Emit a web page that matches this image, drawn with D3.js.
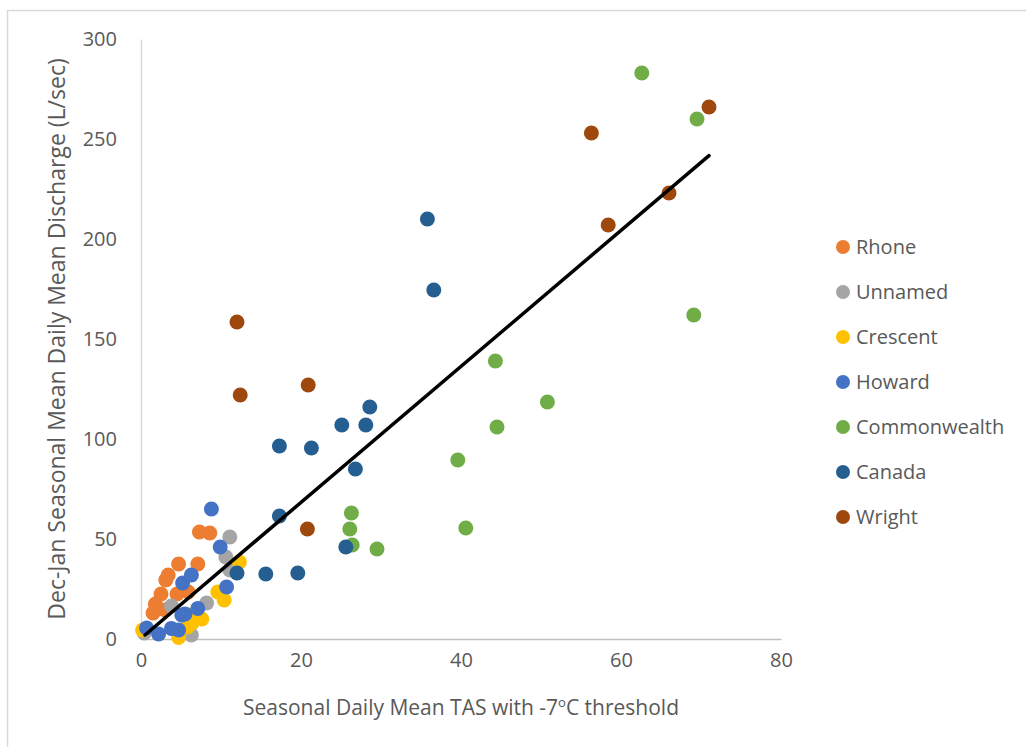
<!DOCTYPE html>
<html lang="en">
<head>
    <meta charset="UTF-8">
    <title>Discharge vs TAS</title>
    <style>
        body { margin: 0; padding: 0; background: #fff; }
        svg { display: block; }
        text { font-family: "Open Sans", "Noto Sans", sans-serif; fill: #595959; }
    </style>
</head>
<body>
    <svg width="1026" height="747"></svg>
    <script src="https://d3js.org/d3.v7.min.js"></script>
    <script>
        // Series names and colours (legend order)
        const seriesNames = ["Rhone", "Unnamed", "Crescent", "Howard", "Commonwealth", "Canada", "Wright"];
        const seriesColors = ["#ED7D31", "#A5A5A5", "#FFC000", "#4472C4", "#70AD47", "#255E91", "#9E480E"];

        // [TAS, discharge] pairs
        const rhone = [[1.5, 13], [1.8, 17.5], [2.5, 22.5], [3.1, 29.5], [3.4, 32], [3.0, 14.5],
            [4.5, 22.5], [5.9, 23.5], [4.7, 37.5], [7.1, 37.5], [7.3, 53.5], [8.6, 53]];
        const unnamed = [[0.4, 3], [3.8, 16.5], [6.3, 2], [8.2, 18], [10.6, 41], [11.1, 34.5], [11.1, 51]];
        const crescent = [[0.2, 4.5], [4.7, 0.8], [5.8, 6], [6.4, 8], [6.1, 12], [7.6, 10], [9.6, 23.5],
            [10.4, 19.5], [12.3, 38.5]];
        const howard = [[0.7, 5.5], [2.2, 2.5], [3.8, 5.3], [4.7, 4.5], [5.1, 12], [5.5, 12.5], [7.1, 15.3],
            [5.2, 28], [6.3, 32], [10.7, 26], [9.9, 46], [8.8, 65]];
        const commonwealth = [[62.6, 283], [69.5, 260], [69.1, 162], [44.3, 139], [50.8, 118.5], [44.5, 106],
            [39.6, 89.5], [40.6, 55.5], [26.3, 63], [26.1, 55], [26.4, 47], [29.5, 45]];
        const canada = [[35.8, 210], [36.6, 174.5], [28.6, 116], [25.1, 107], [28.1, 107], [17.3, 96.5],
            [21.3, 95.5], [26.8, 85], [17.3, 61.5], [25.6, 46], [15.6, 32.5], [19.6, 33], [12.0, 33]];
        const wright = [[71.0, 266], [56.3, 253], [66.0, 223], [58.4, 207], [12.0, 158.5], [12.4, 122],
            [20.9, 127], [20.8, 55]];
        const seriesData = [rhone, unnamed, crescent, howard, commonwealth, canada, wright];

        // Linear trendline
        const trendSlope = 3.40;
        const trendIntercept = 0.3;
        const trendRange = [0.5, 71.0];

        const xTicks = [0, 20, 40, 60, 80];
        const yTicks = [0, 50, 100, 150, 200, 250, 300];

        const svg = d3.select("svg");

        // chart border (Excel chart area)
        svg.append("rect")
            .attr("x", 7.5).attr("y", 10.5)
            .attr("width", 1040).attr("height", 760)
            .attr("fill", "none").attr("stroke", "#D9D9D9").attr("stroke-width", 1.5);

        const x = d3.scaleLinear().domain([0, 80]).range([141, 781]);
        const y = d3.scaleLinear().domain([0, 300]).range([639, 39]);

        // axes
        const xAxis = svg.append("g")
            .attr("transform", `translate(0,${y(0)})`)
            .call(d3.axisBottom(x).tickValues(xTicks).tickSize(0).tickPadding(14));
        xAxis.select(".domain").attr("stroke", "#BFBFBF").attr("stroke-width", 1.5);
        xAxis.selectAll("text").style("font-size", "20px").attr("fill", "#595959");

        const yAxis = svg.append("g")
            .attr("transform", `translate(${x(0)},0)`)
            .call(d3.axisLeft(y).tickValues(yTicks).tickSize(0).tickPadding(24));
        yAxis.select(".domain").attr("stroke", "#D9D9D9").attr("stroke-width", 1.5);
        yAxis.selectAll("text").style("font-size", "20px").attr("fill", "#595959");

        // points
        seriesData.forEach((pts, i) => {
            svg.append("g")
                .selectAll("circle")
                .data(pts)
                .enter()
                .append("circle")
                .attr("cx", d => x(d[0]))
                .attr("cy", d => y(d[1]))
                .attr("r", 7.5)
                .attr("fill", seriesColors[i]);
        });

        // trendline
        svg.append("line")
            .attr("x1", x(trendRange[0]))
            .attr("y1", y(trendSlope * trendRange[0] + trendIntercept))
            .attr("x2", x(trendRange[1]))
            .attr("y2", y(trendSlope * trendRange[1] + trendIntercept))
            .attr("stroke", "#000").attr("stroke-width", 3.5)
            .attr("stroke-linecap", "round");

        // axis titles
        svg.append("text")
            .attr("transform", `translate(65,${(y(0) + y(300)) / 2}) rotate(-90)`)
            .attr("text-anchor", "middle")
            .style("font-size", "23px")
            .text("Dec-Jan Seasonal Mean Daily Mean Discharge (L/sec)");

        const xTitle = svg.append("text")
            .attr("x", (x(0) + x(80)) / 2)
            .attr("y", 715)
            .attr("text-anchor", "middle")
            .style("font-size", "21px");
        xTitle.append("tspan").text("Seasonal Daily Mean TAS with -7");
        xTitle.append("tspan").attr("dy", -8).style("font-size", "13px").text("o");
        xTitle.append("tspan").attr("dy", 8).text("C threshold");

        // legend
        const legend = svg.append("g");
        seriesNames.forEach((name, i) => {
            const ly = 247 + i * 45;
            legend.append("circle")
                .attr("cx", 843).attr("cy", ly).attr("r", 7)
                .attr("fill", seriesColors[i]);
            legend.append("text")
                .attr("x", 856).attr("y", ly)
                .attr("dy", "0.35em")
                .style("font-size", "20px")
                .text(name);
        });
    </script>
</body>
</html>
